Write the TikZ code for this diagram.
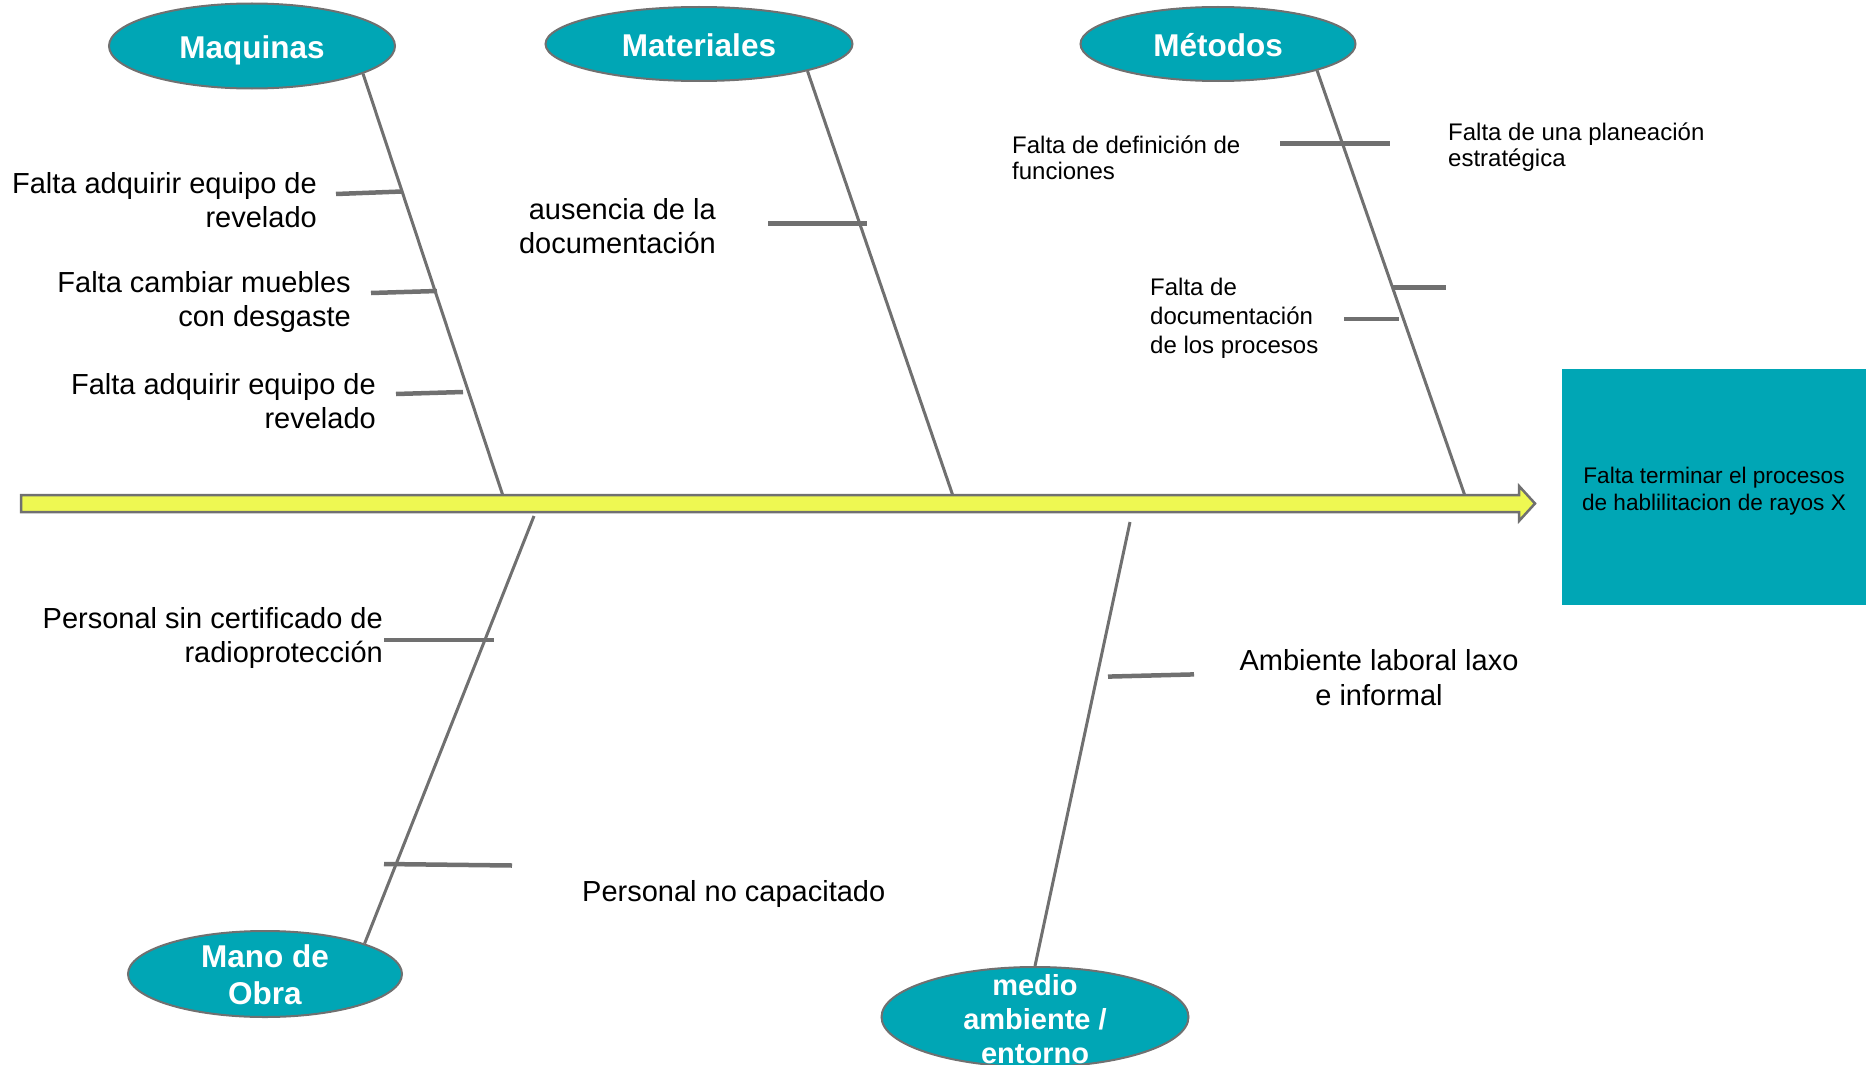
\documentclass[tikz,border=0pt]{standalone}
\usepackage{fontspec}
\setmainfont{Liberation Sans}
\usetikzlibrary{shapes.geometric}
\definecolor{tealfill}{RGB}{0,166,181}
\definecolor{bonegray}{RGB}{112,112,112}
\definecolor{spineyellow}{RGB}{238,248,82}
\begin{document}
\begin{tikzpicture}[x=1pt,y=-1pt,
  cat/.style={ellipse, draw=bonegray, line width=2pt, fill=tealfill, inner sep=0pt},
  cattext/.style={text=white, font=\fontsize{31.5}{37}\selectfont\bfseries, align=center, inner sep=0pt},
  bone/.style={draw=bonegray, line width=3pt},
  tick/.style={draw=bonegray, line width=4.5pt},
  big/.style={font=\fontsize{29}{34.5}\selectfont, inner sep=0pt},
  small/.style={font=\fontsize{24}{26.5}\selectfont, inner sep=0pt, align=left},
]
\useasboundingbox (0,0) rectangle (1866,1065);

% category ellipses
\node[cat, minimum width=286pt, minimum height=85pt] (maq) at (252,46) {};
\node[cat, minimum width=307pt, minimum height=74pt] (mat) at (699,44) {};
\node[cat, minimum width=275pt, minimum height=74pt] (met) at (1218,44) {};
\node[cat, minimum width=274pt, minimum height=86pt] (mano) at (265,974) {};
\node[cat, minimum width=307pt, minimum height=100pt] (medio) at (1035,1017) {};

\node[cattext] (maqt) at (252,50.5) {Maquinas};
\node[cattext] (matt) at (699,45.5) {Materiales};
\node[cattext] (mett) at (1218,45.5) {Métodos};
\node[cattext] (manot) at (265,975) {Mano de\\Obra};
\node[cattext, font=\fontsize{29}{34}\selectfont\bfseries] (mediot) at (1035,1019) {medio\\ambiente /\\entorno};

% spine attachment points
\coordinate (s1) at (503,496);
\coordinate (s2) at (953,496);
\coordinate (s3) at (1465,496);
\coordinate (s4) at (534,516);
\coordinate (s5) at (1130,522);

% main bones
\draw[bone] (maq.-14) -- (s1);
\draw[bone] (mat.-14) -- (s2);
\draw[bone] (met.-15) -- (s3);
\draw[bone] (s4) -- (mano.17.6);
\draw[bone] (s5) -- (medio.90);

% spine arrow
\filldraw[fill=spineyellow, draw=bonegray, line width=2.5pt]
  (21,495) -- (1519,495) -- (1519,486) -- (1535,503.5) -- (1519,521) -- (1519,512) -- (21,512) -- cycle;

% effect box
\node[fill=tealfill, minimum width=304pt, minimum height=236pt, inner sep=0pt, anchor=north west] (effect) at (1562,369) {};
\node[font=\fontsize{22.6}{26.7}\selectfont, align=center, inner sep=0pt] (effectt) at (1714,491) {Falta terminar el procesos\\de hablilitacion de rayos X};

% sub-bones
\draw[tick] (336,194) -- (402,191.5);
\draw[tick] (371,293) -- (437,291);
\draw[tick] (396,394) -- (463,392);
\draw[tick] (768,223.6) -- (867,223.6);
\draw[tick] (1280,143.6) -- (1389.5,143.6);
\draw[tick] (1392.5,287.5) -- (1446,287.5);
\draw[tick] (1344,319) -- (1398.5,319);
\draw[tick] (384,640) -- (494,640);
\draw[tick] (384,864) -- (512,865.5);
\draw[tick] (1108,676.6) -- (1194,674.4);

% cause labels
\node[big, anchor=east, align=right] (c1) at (317,200) {Falta adquirir equipo de\\revelado};
\node[big, anchor=east, align=right] (c2) at (351,302) {Falta cambiar muebles\\con desgaste};
\node[big, anchor=east, align=right] (c3) at (376,401) {Falta adquirir equipo de\\revelado};
\node[big, anchor=east, align=right] (c4) at (716,226) {ausencia de la\\documentación};
\node[small, anchor=west] (c5) at (1012,157.6) {Falta de definición de\\funciones};
\node[small, anchor=west] (c6) at (1448,147) {Falta de una planeación\\estratégica};
\node[small, anchor=west, font=\fontsize{24}{28.8}\selectfont] (c7) at (1150,318.5) {Falta de\\documentación\\de los procesos};
\node[big, anchor=east, align=right] (c8) at (383,638) {Personal sin certificado de\\radioprotección};
\node[big, anchor=west] (c9) at (582,894) {Personal no capacitado};
\node[big, align=center] (c10) at (1379,677.5) {Ambiente laboral laxo\\e informal};
\end{tikzpicture}
\end{document}
